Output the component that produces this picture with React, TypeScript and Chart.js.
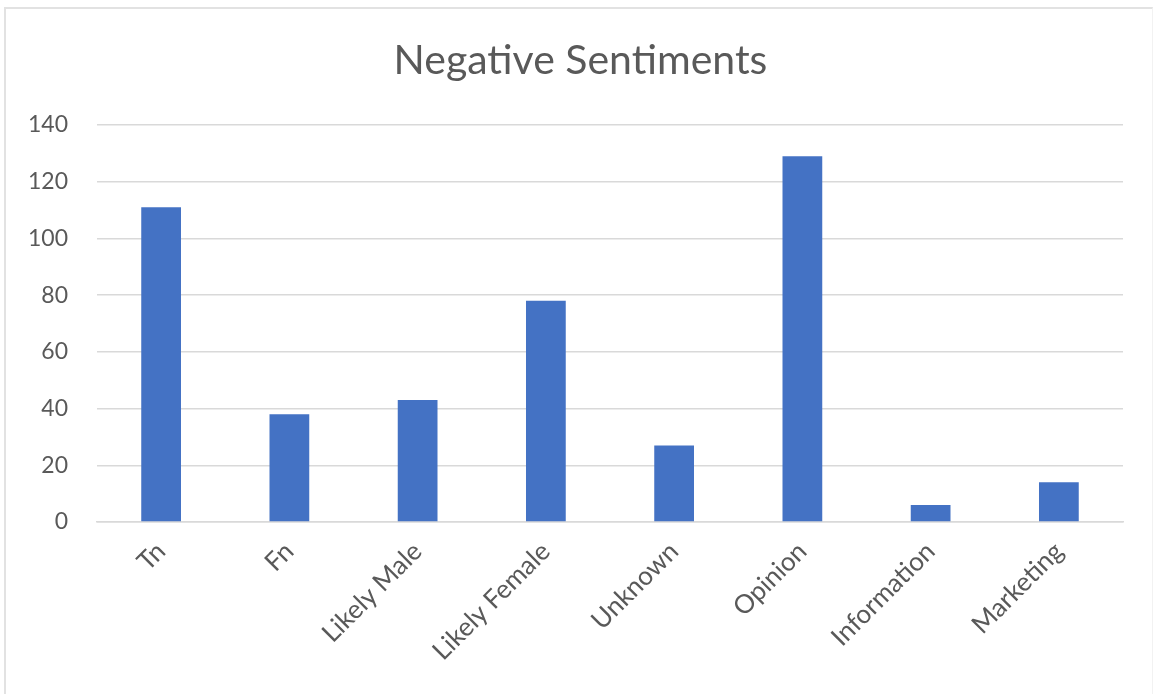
import React, { useEffect, useRef } from "react";
import { Chart, registerables } from "chart.js";

Chart.register(...registerables);

const categories = [
  "Tn",
  "Fn",
  "Likely Male",
  "Likely Female",
  "Unknown",
  "Opinion",
  "Information",
  "Marketing",
];
const negativeCounts = [111, 38, 43, 78, 27, 129, 6, 14];
const yTicks = [0, 20, 40, 60, 80, 100, 120, 140];
const chartTitle = "Negative Sentiments";

const TEXT = "#595959";
const GRID = "#d9d9d9";
const BAR = "#4472C4";
const FONT = "Lato, 'Open Sans', sans-serif";

// Title centred on the whole chart frame rather than on the plot box.
const frameTitle = {
  id: "frameTitle",
  afterDraw(chart: any) {
    const { ctx, width } = chart;
    ctx.save();
    ctx.fillStyle = TEXT;
    ctx.font = `41px ${FONT}`;
    ctx.textAlign = "center";
    ctx.textBaseline = "middle";
    ctx.fillText(chartTitle, width / 2 + 3, 61);
    ctx.restore();
  },
};

export default function App() {
  const canvasRef = useRef<HTMLCanvasElement | null>(null);

  useEffect(() => {
    if (!canvasRef.current) return;
    const chart = new Chart(canvasRef.current, {
      type: "bar",
      data: {
        labels: categories,
        datasets: [
          {
            label: chartTitle,
            data: negativeCounts,
            backgroundColor: BAR,
            borderWidth: 0,
            categoryPercentage: 1,
            barPercentage: 0.31,
          },
        ],
      },
      plugins: [frameTitle],
      options: {
        animation: false,
        responsive: true,
        maintainAspectRatio: false,
        layout: { padding: { left: 0, right: 32, top: 125, bottom: 0 } },
        plugins: {
          legend: { display: false },
          tooltip: { enabled: false },
          title: { display: false },
        },
        scales: {
          x: {
            grid: { display: false, drawTicks: false },
            border: { display: true, color: GRID, width: 1.5 },
            ticks: {
              color: TEXT,
              font: { family: FONT, size: 26 },
              minRotation: 45,
              maxRotation: 45,
              padding: 14,
            },
            afterFit: (scale: any) => {
              scale.height = 172;
            },
          },
          y: {
            min: 0,
            max: 140,
            grid: { color: GRID, lineWidth: 1.5, drawTicks: false },
            border: { display: false },
            afterBuildTicks: (scale: any) => {
              scale.ticks = yTicks.map((v) => ({ value: v }));
            },
            ticks: {
              color: TEXT,
              font: { family: FONT, size: 23 },
              padding: 29,
            },
            afterFit: (scale: any) => {
              scale.width = 97;
            },
          },
        },
      },
    });
    return () => chart.destroy();
  }, []);

  return (
    <div
      style={{
        position: "absolute",
        left: 0,
        top: 0,
        width: 1155,
        height: 694,
        background: "#ffffff",
        overflow: "hidden",
      }}
    >
      <div
        style={{
          position: "absolute",
          left: 4,
          top: 7,
          width: 1149,
          height: 690,
          borderTop: "2px solid #e2e2e2",
          borderLeft: "2px solid #e2e2e2",
          borderRight: "1px solid #f2f2f2",
          boxSizing: "border-box",
        }}
      />
      <canvas ref={canvasRef} style={{ position: "absolute", left: 0, top: 0 }} />
    </div>
  );
}
